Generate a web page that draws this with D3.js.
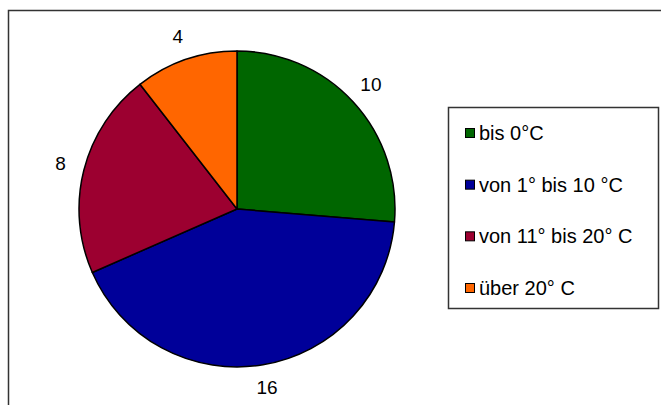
<!DOCTYPE html>
<html>
<head>
<meta charset="utf-8">
<script src="https://cdn.jsdelivr.net/npm/d3@7"></script>
<style>
  body { margin: 0; background: #fff; }
  svg text { font-family: "Liberation Sans", Arial, sans-serif; fill: #000; }
</style>
</head>
<body>
<div id="chart"></div>
<script>
// temperature classes and counts
var categories = ["bis 0°C", "von 1° bis 10 °C", "von 11° bis 20° C", "über 20° C"];
var values = [10, 16, 8, 4];
var colors = ["#006600", "#000099", "#9c0030", "#ff6600"];

var svgWidth = 661;
var svgHeight = 405;

var svg = d3.select("#chart")
    .append("svg")
    .attr("width", svgWidth)
    .attr("height", svgHeight);

// outer chart frame (runs off the right and bottom edge)
svg.append("rect")
    .attr("x", 8.5)
    .attr("y", 10.5)
    .attr("width", 700)
    .attr("height", 450)
    .attr("fill", "none")
    .attr("stroke", "#333")
    .attr("stroke-width", 1.5);

var cx = 237, cy = 209, radius = 158;

var data = categories.map(function(c, i) {
    return { name: c, value: values[i], color: colors[i] };
});

var pie = d3.pie()
    .sort(null)
    .value(d => d.value);

var arc = d3.arc()
    .innerRadius(0)
    .outerRadius(radius);

var labelArc = d3.arc()
    .innerRadius(182)
    .outerRadius(182);

var pieGroup = svg.append("g")
    .attr("transform", `translate(${cx}, ${cy})`);

var arcs = pie(data);

pieGroup.selectAll("path")
    .data(arcs)
    .enter()
    .append("path")
    .attr("d", arc)
    .attr("fill", d => d.data.color)
    .attr("stroke", "#000")
    .attr("stroke-width", 1.5)
    .attr("stroke-linejoin", "round");

pieGroup.selectAll("text.value")
    .data(arcs)
    .enter()
    .append("text")
    .attr("class", "value")
    .attr("transform", d => `translate(${labelArc.centroid(d)})`)
    .attr("text-anchor", "middle")
    .attr("dy", "0.3em")
    .style("font-size", "19px")
    .text(d => d.data.value);

// legend
var legend = svg.append("g");

legend.append("rect")
    .attr("x", 448.5)
    .attr("y", 107.5)
    .attr("width", 210)
    .attr("height", 201)
    .attr("fill", "#fff")
    .attr("stroke", "#333")
    .attr("stroke-width", 1.5);

var legendY = d3.scalePoint()
    .domain(categories)
    .range([133, 288]);

var rows = legend.selectAll("g.row")
    .data(data)
    .enter()
    .append("g")
    .attr("class", "row")
    .attr("transform", d => `translate(465, ${legendY(d.name)})`);

rows.append("rect")
    .attr("x", 0.5)
    .attr("y", -4.5)
    .attr("width", 9)
    .attr("height", 9)
    .attr("fill", d => d.color)
    .attr("stroke", "#000")
    .attr("stroke-width", 1);

rows.append("text")
    .attr("x", 14)
    .attr("y", 0)
    .attr("dy", "0.35em")
    .style("font-size", "20px")
    .text(d => d.name);
</script>
</body>
</html>
